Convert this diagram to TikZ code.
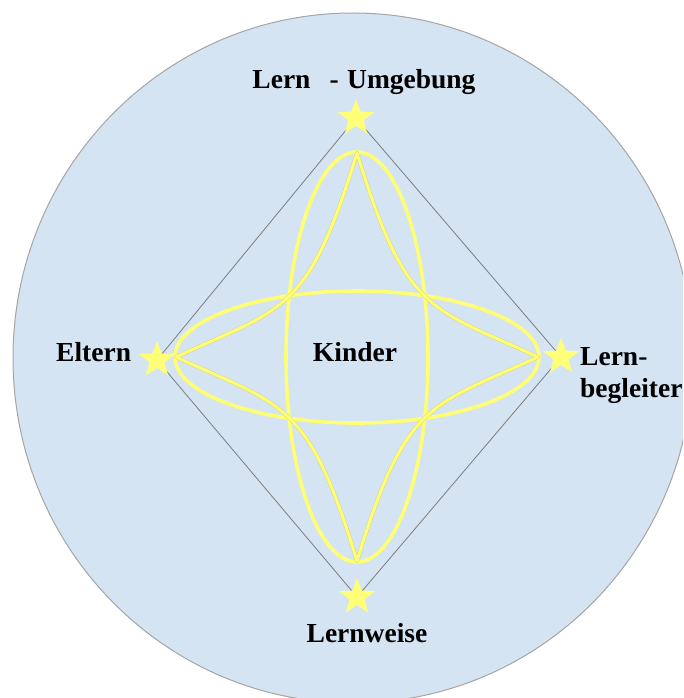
\documentclass[tikz,border=0pt]{standalone}
\usepackage{fontspec}
\setmainfont{Liberation Serif}
\usetikzlibrary{shapes.geometric}
\definecolor{bgblue}{RGB}{212,228,243}
\definecolor{rimgray}{RGB}{165,165,165}
\definecolor{diagray}{RGB}{125,125,125}
\definecolor{ylw}{RGB}{255,255,115}
\definecolor{ylwdark}{RGB}{214,208,122}
\definecolor{starylw}{RGB}{255,255,120}
\tikzset{
  starnode/.style={star, star points=5, star point ratio=2.4, minimum size=38pt, inner sep=0pt, fill=starylw, draw=none},
  lbl/.style={font=\fontsize{27.5}{32}\selectfont\bfseries, inner sep=0pt},
  diaedge/.style={draw=diagray, line width=0.8pt},
  ring/.style={draw=ylw, line width=3.6pt},
  cuspunder/.style={draw=ylwdark, line width=3.8pt, line cap=round},
  cusp/.style={draw=ylw, line width=3pt, line cap=round}
}
\begin{document}
\begin{tikzpicture}[x=1pt,y=-1pt]
\useasboundingbox (0,0) rectangle (683,698);
\begin{scope}
  \clip (0,0) rectangle (683,698);
  \fill[bgblue] (353,358) ellipse [x radius=340, y radius=345];
  \draw[rimgray, line width=1pt] (353,358) ellipse [x radius=340, y radius=345];
\end{scope}
% diamond corners
\coordinate (T) at (356,118);
\coordinate (R) at (561,357);
\coordinate (B) at (357,597);
\coordinate (L) at (157,360);
\draw[diaedge] (T) -- (R) -- (B) -- (L) -- cycle;
% ellipses
\coordinate (C) at (357,357);
\draw[ring] (C) ellipse [x radius=71, y radius=205];
\draw[ring] (C) ellipse [x radius=182, y radius=66];
% cusp curves
\coordinate (ct) at (357,153);
\coordinate (cb) at (357,561);
\coordinate (cl) at (176,357);
\coordinate (cr) at (538,357);
\foreach \s in {cuspunder,cusp}{
  \draw[\s] (ct) .. controls (308,313) and (285,307) .. (cl);
  \draw[\s] (ct) .. controls (406,313) and (429,307) .. (cr);
  \draw[\s] (cb) .. controls (308,401) and (285,407) .. (cl);
  \draw[\s] (cb) .. controls (406,401) and (429,407) .. (cr);
}
% stars
\node[starnode] (sT) at (T) {};
\node[starnode] (sR) at (R) {};
\node[starnode] (sB) at (B) {};
\node[starnode] (sL) at (L) {};
% labels
\node[lbl, anchor=base] (lu) at (364,89) {Lern\hspace{0.7em}-\hspace{0.3em}Umgebung};
\node[lbl, anchor=base west] (el) at (56,361) {Eltern};
\node[lbl, anchor=base] (ki) at (355,361) {Kinder};
\node[lbl, anchor=base west] (lb1) at (580,365) {Lern-};
\node[lbl, anchor=base west] (lb2) at (580,397) {begleiter};
\node[lbl, anchor=base] (lw) at (367,642) {Lernweise};
\end{tikzpicture}
\end{document}
